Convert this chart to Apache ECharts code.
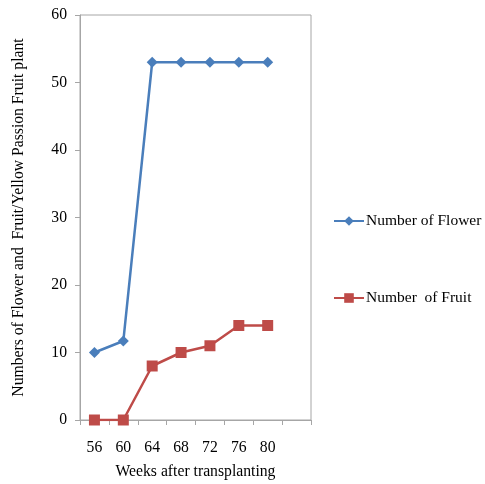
<!DOCTYPE html>
<html><head><meta charset="utf-8">
<script src="https://cdn.jsdelivr.net/npm/echarts@6/dist/echarts.min.js"></script>
<style>html,body{margin:0;padding:0;background:#fff}#c{width:485px;height:484px}</style>
</head><body><div id="c"></div>
<script>
const weeks = ['56','60','64','68','72','76','80',''];
const flowers = [10, 11.7, 53, 53, 53, 53, 53, null];
const fruits = [0, 0, 8, 10, 11, 14, 14, null];
const yTicks = [0, 10, 20, 30, 40, 50, 60];

const font = 'Liberation Serif';
const chart = echarts.init(document.getElementById('c'), null, {renderer: 'canvas'});
chart.setOption({
  animation: false,
  backgroundColor: '#fff',
  grid: {left: 80, right: 174, top: 15, bottom: 64, show: true, borderColor: '#a6a6a6', borderWidth: 1,
         containLabel: false, outerBoundsMode: 'none'},
  legend: {
    orient: 'vertical', left: 333, top: 213, itemGap: 61, padding: 0,
    itemWidth: 30, itemHeight: 12,
    textStyle: {fontFamily: font, fontSize: 15.5, color: '#000', padding: [0,0,0,-3]},
    data: ['Number of Flower', 'Number  of Fruit']
  },
  xAxis: {
    type: 'category', data: weeks, boundaryGap: true,
    name: 'Weeks after transplanting', nameLocation: 'middle', nameGap: 44,
    nameTextStyle: {fontFamily: font, fontSize: 15.7, color: '#000'},
    axisLine: {lineStyle: {color: '#a6a6a6'}},
    axisTick: {show: true, length: 5, alignWithLabel: false, lineStyle: {color: '#a6a6a6'}},
    axisLabel: {fontFamily: font, fontSize: 15.7, color: '#000', margin: 20, interval: 0}
  },
  yAxis: {
    type: 'value', min: yTicks[0], max: yTicks[yTicks.length-1], interval: 10,
    name: 'Numbers of Flower and  Fruit/Yellow Passion Fruit plant', nameLocation: 'middle', nameGap: 53,
    nameTextStyle: {fontFamily: font, fontSize: 15.7, color: '#000'},
    axisLine: {show: true, lineStyle: {color: '#a6a6a6'}},
    axisTick: {show: true, length: 5, lineStyle: {color: '#a6a6a6'}},
    splitLine: {show: false},
    axisLabel: {fontFamily: font, fontSize: 15.7, color: '#000', margin: 13}
  },
  series: [
    {name: 'Number of Flower', type: 'line', data: flowers, symbol: 'diamond', symbolSize: 11,
     lineStyle: {color: '#4a7ebb', width: 2.5}, itemStyle: {color: '#4a7ebb'}},
    {name: 'Number  of Fruit', type: 'line', data: fruits, symbol: 'rect', symbolSize: 11,
     lineStyle: {color: '#be4b48', width: 2.5}, itemStyle: {color: '#be4b48'}}
  ]
});
</script></body></html>
